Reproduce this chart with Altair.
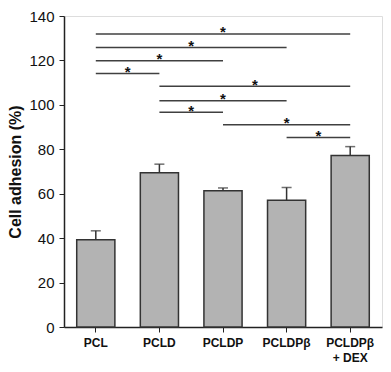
import altair as alt
import pandas as pd

categories = ["PCL", "PCLD", "PCLDP", "PCLDPβ", "PCLDPβ + DEX"]
means = [39.3, 69.4, 61.3, 57.1, 77.2]
errors = [4.0, 3.9, 1.3, 5.7, 4.0]

sig_start = ["PCL", "PCL", "PCL", "PCL", "PCLD", "PCLD", "PCLD", "PCLDP", "PCLDPβ"]
sig_end = ["PCLDPβ + DEX", "PCLDPβ", "PCLDP", "PCLD", "PCLDPβ + DEX",
           "PCLDPβ", "PCLDP", "PCLDPβ + DEX", "PCLDPβ + DEX"]
sig_y = [131.9, 125.8, 119.9, 114.1, 108.4, 101.9, 96.7, 91.1, 85.3]
sig_label = ["*"] * 9

bars_df = pd.DataFrame({
    "cat": categories,
    "mean": means,
    "upper": [m + e for m, e in zip(means, errors)],
})

sig_df = pd.DataFrame({
    "x1": [categories.index(s) + 0.5 for s in sig_start],
    "x2": [categories.index(e) + 0.5 for e in sig_end],
    "y": sig_y,
    "label": sig_label,
})
sig_df["xm"] = (sig_df["x1"] + sig_df["x2"]) / 2

W, H = 318, 311

xband = alt.X(
    "cat:N", sort=categories,
    scale=alt.Scale(paddingInner=0.4, paddingOuter=0.2),
    axis=alt.Axis(
        title=None, labelAngle=0, labelFont="Liberation Sans", labelFontWeight="bold",
        labelFontSize=12, labelColor="#111", tickSize=5, tickColor="#222",
        domainColor="#222", domainWidth=1.5, labelPadding=5, labelLineHeight=15,
        labelExpr="datum.label == 'PCLDPβ + DEX' ? ['PCLDPβ', '+ DEX'] : datum.label",
    ),
)
yscale = alt.Scale(domain=[0, 140], nice=False)
yaxis = alt.Axis(
    title="Cell adhesion (%)", values=[0, 20, 40, 60, 80, 100, 120, 140],
    grid=False, labelFont="Liberation Sans", labelFontSize=15, labelColor="#111",
    tickSize=5, tickColor="#222", domainColor="#222", domainWidth=1.5,
    labelPadding=5, titleFont="Liberation Sans", titleFontSize=16,
    titleFontWeight="bold", titleColor="#111", titleX=-41, titleY=H / 2,
)

bars = alt.Chart(bars_df).mark_bar(
    color="#b3b3b3", stroke="#333333", strokeWidth=1.5
).encode(x=xband, y=alt.Y("mean:Q", scale=yscale, axis=yaxis))

err = alt.Chart(bars_df).mark_rule(color="#333333", strokeWidth=1.5).encode(
    x=alt.X("cat:N", sort=categories), y="mean:Q", y2="upper:Q"
)
cap = alt.Chart(bars_df).mark_tick(
    color="#333333", thickness=1.5, size=10, orient="horizontal"
).encode(x=alt.X("cat:N", sort=categories), y="upper:Q")

xq = alt.Scale(domain=[0, 5], nice=False, zero=False)
lines = alt.Chart(sig_df).mark_rule(color="#404040", strokeWidth=1.5).encode(
    x=alt.X("x1:Q", scale=xq, axis=None), x2="x2:Q", y=alt.Y("y:Q", scale=yscale)
)
stars = alt.Chart(sig_df).mark_text(
    font="Liberation Sans", fontWeight="bold", fontSize=15, color="#111",
    baseline="alphabetic", dy=3.5
).encode(
    x=alt.X("xm:Q", scale=xq, axis=None), y=alt.Y("y:Q", scale=yscale), text="label:N"
)

base = alt.layer(bars, err, cap).resolve_scale(x="shared")
annot = alt.layer(lines, stars)

chart = alt.layer(base, annot).resolve_scale(x="independent").properties(
    width=W, height=H,
    autosize=alt.AutoSizeParams(type="none"),
    padding={"left": 56, "top": 8, "right": 1, "bottom": 37},
).configure_view(stroke="#333333", strokeWidth=1.2).configure(background="white")

chart.save("out.html", embed_options={"renderer": "svg", "actions": False})
